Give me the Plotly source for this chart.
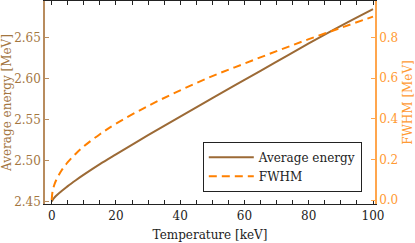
import plotly.graph_objects as go

temperature = [0, 0.5, 1, 2, 3, 5, 7.5, 10, 15, 20, 30, 40, 50, 60, 70, 80, 90, 100]
avg_energy = [2.4497, 2.4528, 2.4553, 2.4590, 2.4622, 2.4686, 2.4758, 2.4826, 2.4955, 2.5074,
              2.5308, 2.5536, 2.5761, 2.5984, 2.6207, 2.6430, 2.6645, 2.6850]
fwhm_t = [0, 0.25, 0.5, 1, 2, 3, 5, 7.5, 10, 15, 20, 30, 40, 50, 60, 70, 80, 90, 100]
fwhm = [0.0, 0.041, 0.058, 0.083, 0.117, 0.144, 0.186, 0.228, 0.264, 0.324, 0.376,
        0.463, 0.540, 0.610, 0.672, 0.733, 0.792, 0.848, 0.903]

x_ticks = [0, 20, 40, 60, 80, 100]
y_ticks = [2.45, 2.50, 2.55, 2.60, 2.65]
y2_ticks = [0.0, 0.2, 0.4, 0.6, 0.8]

brown = "#9c6a36"
orange = "#ff8000"
brown_axis = "#b88c5e"
orange_axis = "#ffa64d"
brown_text = "#a3763f"
orange_text = "#ff9a33"
font = "DejaVu Serif, Liberation Serif, serif"

fig = go.Figure()
fig.add_trace(go.Scatter(x=temperature, y=avg_energy, mode="lines", name="Average energy",
                         line=dict(color=brown, width=2, shape="spline"), yaxis="y"))
fig.add_trace(go.Scatter(x=fwhm_t, y=fwhm, mode="lines", name="FWHM",
                         line=dict(color=orange, width=2, dash="8px,5px", shape="spline"), yaxis="y2"))

fig.update_layout(
    width=415, height=243,
    margin=dict(l=45, r=40, t=1, b=39, autoexpand=False),
    paper_bgcolor="white", plot_bgcolor="white",
    font=dict(family=font, size=12, color="#222"),
    showlegend=True,
    legend=dict(x=0.96, y=0.06, xanchor="right", yanchor="bottom",
                bgcolor="white", bordercolor="#222", borderwidth=1,
                font=dict(family=font, size=12, color="#222"),
                tracegroupgap=0, itemwidth=45),
    xaxis=dict(range=[-2.085, 100.62], tickvals=x_ticks, ticks="inside", ticklen=4,
               tickcolor="#222", showline=True, linecolor="#222", linewidth=1.2,
               mirror="allticks", showgrid=False, zeroline=False, automargin=False,
               minor=dict(dtick=5, ticks="inside", ticklen=2.5, tickcolor="#222"),
               title=dict(text="Temperature [keV]", standoff=9,
                          font=dict(family=font, size=12, color="#222")),
               tickfont=dict(family=font, size=12, color="#222")),
    yaxis=dict(range=[2.4467, 2.6949], tickvals=y_ticks, ticktext=["2.45", "2.50", "2.55", "2.60", "2.65"],
               ticks="inside", ticklen=4, tickcolor=brown_axis, automargin=False,
               showline=True, linecolor=brown_axis, linewidth=1.5, showgrid=False, zeroline=False,
               tickfont=dict(family=font, size=12, color=brown_text),
               title=dict(text="Average energy [MeV]", standoff=2,
                          font=dict(family=font, size=12, color=brown_text))),
    yaxis2=dict(range=[-0.0197, 0.980], tickvals=y2_ticks, ticktext=["0.0", "0.2", "0.4", "0.6", "0.8"],
                overlaying="y", side="right", anchor="x", automargin=False,
                ticks="inside", ticklen=4, tickcolor=orange_axis,
                showline=True, linecolor=orange_axis, linewidth=1.5, showgrid=False, zeroline=False,
                tickfont=dict(family=font, size=12, color=orange_text),
                title=dict(text="FWHM [MeV]", standoff=8,
                           font=dict(family=font, size=12, color=orange_text))),
)

fig.write_html("out.html", config={"displayModeBar": False},
               post_script="document.body.style.margin='0';document.body.style.overflow='hidden';")
